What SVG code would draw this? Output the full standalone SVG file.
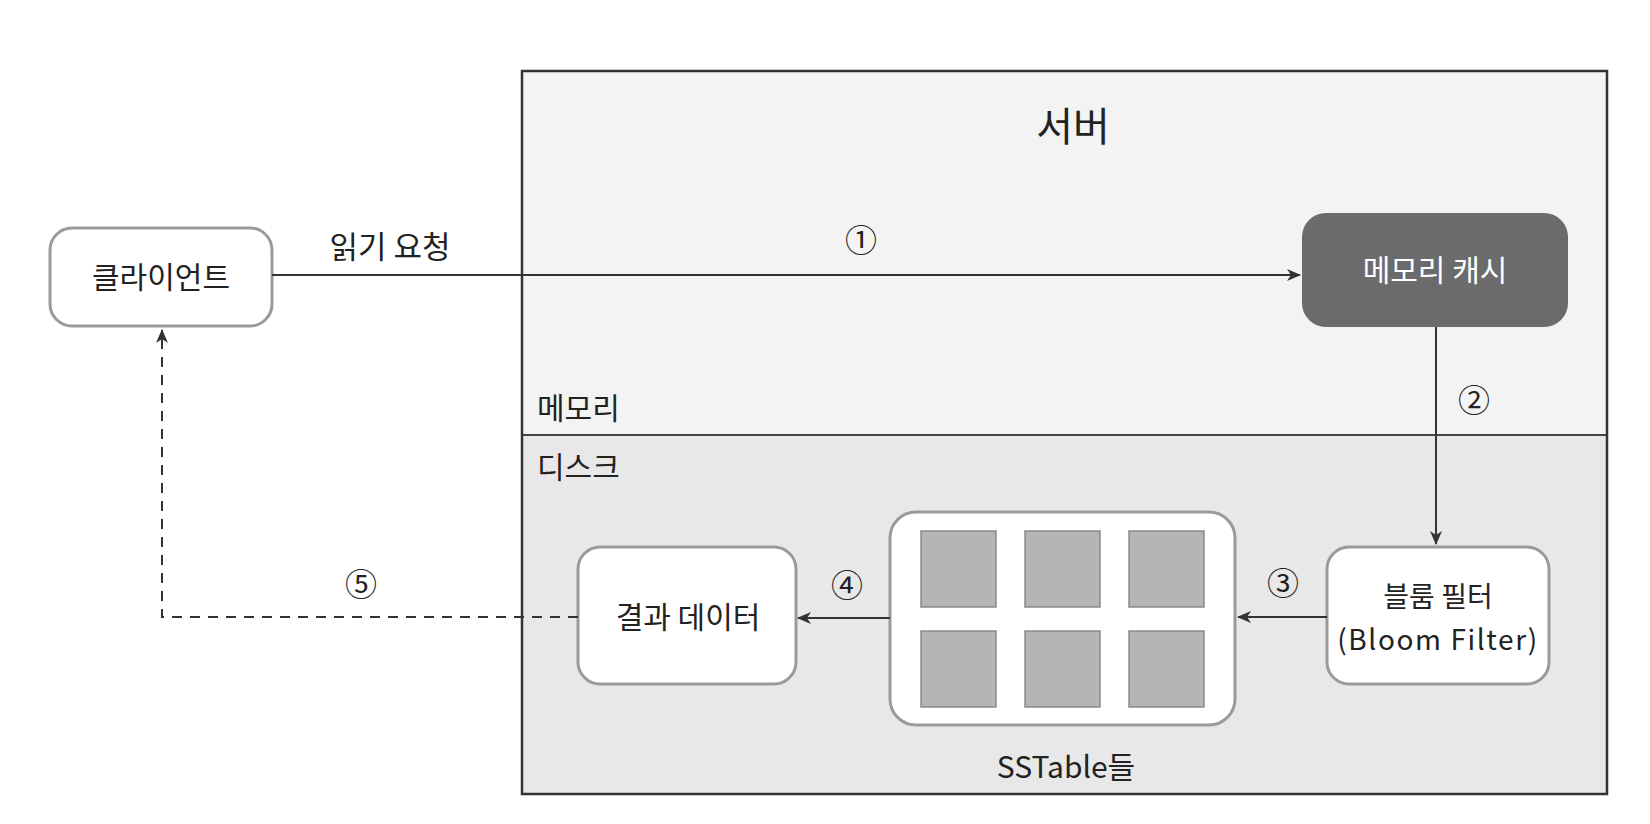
<svg xmlns="http://www.w3.org/2000/svg" width="1650" height="824" viewBox="0 0 1650 824">
<defs>
<marker id="arr" viewBox="0 0 14 14" refX="13" refY="7" markerWidth="14" markerHeight="14" markerUnits="userSpaceOnUse" orient="auto">
<path d="M0,1 L14,7 L0,13 L4,7 Z" fill="#333"/>
</marker>
<style>
text{font-family:"Noto Sans CJK KR","Noto Sans",sans-serif;fill:#222}
.node{fill:#fff;stroke:#9a9a9a;stroke-width:3}
.lbl{font-size:30px;text-anchor:middle}
.num{font-size:32px;text-anchor:middle}
.conn{stroke:#333;stroke-width:2;fill:none}
.sq{fill:#b5b5b5;stroke:#8a8a8a;stroke-width:1.5}
</style>
</defs>
<rect width="1650" height="824" fill="#fff"/>
<g id="server">
<rect x="522" y="71" width="1085" height="364" fill="#f3f3f3"/>
<rect x="522" y="435" width="1085" height="359" fill="#e8e8e8"/>
<line x1="522" y1="435" x2="1607" y2="435" stroke="#444" stroke-width="2"/>
<rect x="522" y="71" width="1085" height="723" fill="none" stroke="#333" stroke-width="2.5"/>
<text x="1073" y="141" font-size="40" text-anchor="middle">서버</text>
<text x="537" y="419" font-size="30">메모리</text>
<text x="537" y="478" font-size="30">디스크</text>
</g>
<g id="client">
<rect class="node" x="50" y="228" width="222" height="98" rx="22"/>
<text class="lbl" x="161" y="288">클라이언트</text>
</g>
<g id="memcache">
<rect x="1302" y="213" width="266" height="114" rx="24" fill="#6b6b6b"/>
<text class="lbl" x="1435" y="281" style="fill:#fff">메모리 캐시</text>
</g>
<g id="bloom">
<rect class="node" x="1327" y="547" width="222" height="137" rx="22"/>
<text class="lbl" x="1438" y="607" style="font-size:28px">블룸 필터</text>
<text class="lbl" x="1438" y="650" style="font-size:28px;letter-spacing:1.6px">(Bloom Filter)</text>
</g>
<g id="sstables">
<rect class="node" x="890" y="512" width="345" height="213" rx="26"/>
<rect class="sq" x="921" y="531" width="75" height="76"/>
<rect class="sq" x="1025" y="531" width="75" height="76"/>
<rect class="sq" x="1129" y="531" width="75" height="76"/>
<rect class="sq" x="921" y="631" width="75" height="76"/>
<rect class="sq" x="1025" y="631" width="75" height="76"/>
<rect class="sq" x="1129" y="631" width="75" height="76"/>
<text class="lbl" x="1066" y="778">SSTable들</text>
</g>
<g id="result">
<rect class="node" x="578" y="547" width="218" height="137" rx="22"/>
<text class="lbl" x="688" y="628">결과 데이터</text>
</g>
<g id="connectors">
<line class="conn" x1="272" y1="275" x2="1300" y2="275" marker-end="url(#arr)"/>
<line class="conn" x1="1436" y1="327" x2="1436" y2="544" marker-end="url(#arr)"/>
<line class="conn" x1="1327" y1="617" x2="1238" y2="617" marker-end="url(#arr)"/>
<line class="conn" x1="890" y1="618" x2="798" y2="618" marker-end="url(#arr)"/>
<polyline class="conn" points="578,617 162,617 162,330" stroke-dasharray="10,8" marker-end="url(#arr)"/>
<text x="390" y="258" font-size="31" text-anchor="middle">읽기 요청</text>
<text class="num" x="861" y="252">①</text>
<text class="num" x="1474" y="412">②</text>
<text class="num" x="1283" y="595">③</text>
<text class="num" x="847" y="597">④</text>
<text class="num" x="361" y="596">⑤</text>
</g>
</svg>
